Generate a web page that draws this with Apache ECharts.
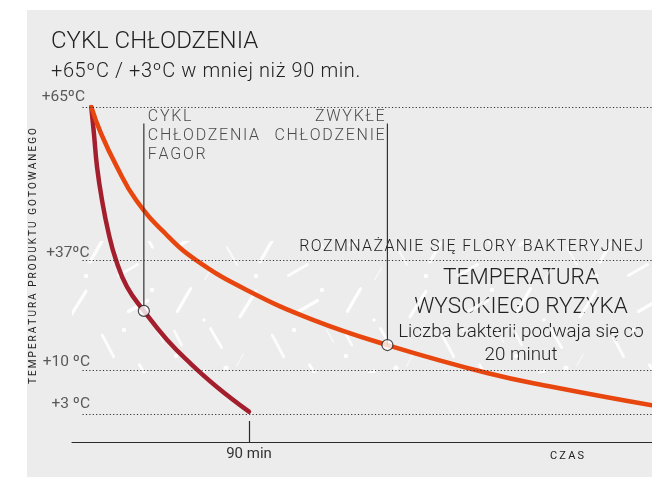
<!DOCTYPE html>
<html>
<head>
<meta charset="utf-8">
<script src="https://cdn.jsdelivr.net/npm/echarts@6/dist/echarts.min.js"></script>
<style>
  html, body { margin: 0; padding: 0; background: #ffffff; }
  #wrap { position: relative; width: 652px; height: 477px; overflow: hidden; }
  #panel { position: absolute; left: 27px; top: 10px; right: 0; bottom: 0; background: #ececec; }
  #chart { position: absolute; left: 0; top: 0; width: 652px; height: 477px; }
</style>
</head>
<body>
<div id="wrap"><div id="panel"></div><div id="chart"></div></div>
<script>
// Cooling curves: time in minutes, product temperature in °C
const fagorTime = [0, 1.5, 3.3, 6.1, 9.9, 14.1, 20.4, 30, 43.2, 56.3, 71.7, 90];
const fagorTemp = [65, 60.2, 54, 48, 41.9, 37, 30.4, 24.5, 17.4, 11.7, 7.3, 3.4];
const standardTime = [0, 5.5, 14.7, 25.5, 42.1, 59.8, 88.9, 126.5, 169, 225.9, 263.5, 320];
const standardTemp = [65, 60.2, 54, 48, 41.9, 37, 29.6, 22.3, 16.1, 9.5, 7.3, 4.4];

// Reference temperatures and their heights on the schematic vertical scale
const refTemps = [3, 10, 37, 65];
const refLabels = ['+3 ºC', '+10 ºC', '+37ºC', '+65ºC'];
const refLevels = [5.4, 14, 35.3, 65];

// High-risk band, °C
const riskBand = [9.5, 40.5];

// Highlighted points [minutes, °C]
const fagorMark = [30, 24.5];
const standardMark = [169, 16.1];
const pointerTopTemp = 62;

const timeTicks = [90];
const timeMin = -11, timeMax = 320, lineStart = -5;

const RED = '#a31f2d';
const ORANGE = '#e8460f';
const INK = '#2b2b2b';
const FONT = 'Roboto';

// piecewise-linear map from °C to the schematic vertical scale
function toLevel(t) {
  let i = 0;
  while (i < refTemps.length - 2 && t > refTemps[i + 1]) i++;
  const t0 = refTemps[i], t1 = refTemps[i + 1];
  const l0 = refLevels[i], l1 = refLevels[i + 1];
  return l0 + (t - t0) * (l1 - l0) / (t1 - t0);
}

// letter-spaced text as rich-text tokens, one per character
function tracked(s) {
  return s.split('\n').map(line => line.split('').map(ch => '{t|' + ch + '}').join('')).join('\n');
}
function thinSpaced(s) { return s.split('').join('\u2009'); }

// white hatch texture for the high-risk band
function hatchTile() {
  const c = document.createElement('canvas');
  c.width = 170; c.height = 140;
  const g = c.getContext('2d');
  g.lineCap = 'round';
  const strokes = [
    [14, 20, 26, -60, 3.2, 0.95], [46, 58, 22, 60, 3, 0.9], [78, 24, 30, -58, 3.2, 0.9],
    [108, 66, 24, 62, 3, 0.85], [138, 26, 22, -30, 3.2, 0.9], [22, 98, 28, -30, 3.2, 0.95],
    [62, 116, 20, 60, 2.2, 0.7], [98, 108, 32, -60, 3.2, 0.9], [146, 96, 26, 60, 3, 0.9],
    [160, 56, 14, 60, 1.6, 0.6], [38, 134, 14, -60, 1.6, 0.55], [128, 130, 22, -30, 3, 0.85],
    [70, 80, 14, -62, 1.5, 0.5], [8, 58, 16, 62, 2.6, 0.8]
  ];
  strokes.forEach(([x, y, len, ang, w, a]) => {
    const r = ang * Math.PI / 180;
    const dx = Math.cos(r) * len / 2, dy = Math.sin(r) * len / 2;
    g.strokeStyle = 'rgba(255,255,255,' + a + ')';
    g.lineWidth = w;
    g.beginPath(); g.moveTo(x - dx, y - dy); g.lineTo(x + dx, y + dy); g.stroke();
  });
  [[56, 88, 2.6], [124, 50, 2.2], [6, 76, 2.2], [86, 136, 2.2], [152, 10, 2.2], [34, 40, 1.8]].forEach(([x, y, r]) => {
    g.fillStyle = 'rgba(255,255,255,0.9)';
    g.beginPath(); g.arc(x, y, r, 0, Math.PI * 2); g.fill();
  });
  return c;
}

const chart = echarts.init(document.getElementById('chart'), null, { renderer: 'canvas' });

const curve = (ts, vs) => ts.map((t, i) => [t, toLevel(vs[i])]);

// label nudges [dx, dy] for the reference temperatures, in refTemps order
const refLabelNudge = [[7.5, -2], [7.5, 0], [7, 1], [2.5, -2]];

const gText = (x, y, text, size, weight, align, extra) => Object.assign({
  type: 'text', x: x, y: y,
  style: { text: text, font: weight + ' ' + size + 'px ' + FONT, fill: '#222', align: align, verticalAlign: 'middle' }
}, extra || {});

const option = {
  backgroundColor: 'transparent',
  animation: false,
  grid: { left: 72, right: 0, top: 107, bottom: 35 },
  xAxis: {
    type: 'value', min: timeMin, max: timeMax,
    axisLine: { show: true, lineStyle: { color: INK, width: 1.2 } },
    axisTick: { show: true, inside: true, length: 21, customValues: timeTicks, lineStyle: { color: INK, width: 1.2 } },
    axisLabel: { show: true, customValues: timeTicks, formatter: v => v + ' min', color: '#333', fontFamily: FONT, fontSize: 15, margin: 5 },
    splitLine: { show: false }
  },
  yAxis: {
    type: 'value', min: 0, max: 65,
    axisLine: { show: false }, axisTick: { show: false }, axisLabel: { show: false }, splitLine: { show: false }
  },
  graphic: [
    gText(51, 42, 'CYKL CHŁODZENIA', 24, 300, 'left'),
    {
      type: 'text', x: 51, y: 72,
      style: {
        text: tracked('+65ºC / +3ºC w mniej niż 90 min.'), verticalAlign: 'middle',
        rich: { t: { fontFamily: FONT, fontSize: 20, fontWeight: 300, fill: '#222', padding: [0, 0.6, 0, 0] } }
      }
    },
    gText(33, 256, thinSpaced('TEMPERATURA PRODUKTU GOTOWANEGO'), 10, 400, 'center', { rotation: Math.PI / 2 }),
    gText(567, 456, thinSpaced('CZAS'), 11, 400, 'center'),
    gText(521, 278, 'TEMPERATURA', 22.5, 300, 'center'),
    gText(521, 307, 'WYSOKIEGO RYZYKA', 22.5, 300, 'center'),
    gText(521, 332, 'Liczba bakterii podwaja się co', 18.8, 300, 'center'),
    gText(521, 355, '20 minut', 18.8, 300, 'center')
  ],
  series: [
    {
      // reference levels and the high-risk band
      type: 'line', data: [], silent: true,
      markArea: {
        silent: true,
        itemStyle: { color: { image: hatchTile(), repeat: 'repeat' } },
        data: [[{ coord: [timeMin, toLevel(riskBand[1])] }, { coord: [timeMax, toLevel(riskBand[0])] }]]
      },
      markLine: {
        silent: true, symbol: ['none', 'none'],
        lineStyle: { color: '#333', width: 1.2, type: [1.2, 2.2] },
        label: { show: false },
        data: refTemps.map((t, i) => {
          const seg = [{ coord: [lineStart, refLevels[i]] }, { coord: [timeMax, refLevels[i]] }];
          if (t === 37) {
            seg[0].label = {
              show: true, position: 'insideEndTop', distance: [7.5, 5],
              formatter: tracked('ROZMNAŻANIE SIĘ FLORY BAKTERYJNEJ'),
              rich: { t: { color: '#222', fontFamily: FONT, fontWeight: 300, fontSize: 16, padding: [0, 1.4, 0, 0] } }
            };
          }
          return seg;
        })
      }
    },
    {
      // reference temperature labels
      type: 'scatter', symbolSize: 0, silent: true,
      data: refLevels.map((lv, i) => ({ value: [lineStart, lv], name: refLabels[i], label: { position: refLabelNudge[i] } })),
      label: {
        show: true, align: 'right', verticalAlign: 'bottom',
        formatter: p => p.name, color: '#333', fontFamily: FONT, fontSize: 15.5
      }
    },
    {
      name: 'Cykl chłodzenia Fagor', type: 'line', smooth: 0.45, showSymbol: false, z: 3,
      lineStyle: { color: RED, width: 4.5, cap: 'round' },
      data: curve(fagorTime, fagorTemp)
    },
    {
      name: 'Zwykłe chłodzenie', type: 'line', smooth: 0.45, showSymbol: false, z: 4,
      lineStyle: { color: ORANGE, width: 4.5, cap: 'round' },
      data: curve(standardTime, standardTemp)
    },
    {
      type: 'line', showSymbol: false, silent: true, z: 5,
      lineStyle: { color: '#333', width: 1.2 },
      data: [[fagorMark[0], toLevel(pointerTopTemp)], [fagorMark[0], toLevel(fagorMark[1])]]
    },
    {
      type: 'line', showSymbol: false, silent: true, z: 5,
      lineStyle: { color: '#333', width: 1.2 },
      data: [[standardMark[0], toLevel(pointerTopTemp)], [standardMark[0], toLevel(standardMark[1])]]
    },
    {
      type: 'scatter', symbol: 'circle', symbolSize: 11, silent: true, z: 6,
      itemStyle: { color: '#fff', borderColor: '#222', borderWidth: 1.2 },
      data: [[fagorMark[0], toLevel(fagorMark[1])], [standardMark[0], toLevel(standardMark[1])]]
    },
    {
      // curve annotations above the pointer lines
      type: 'scatter', symbolSize: 0, silent: true, z: 6,
      data: [
        { value: [fagorMark[0], toLevel(65)], name: 'CYKL\nCHŁODZENIA\nFAGOR', label: { position: [4, 0], align: 'left' } },
        { value: [standardMark[0], toLevel(65)], name: 'ZWYKŁE\nCHŁODZENIE', label: { position: [-1, 0], align: 'right' } }
      ],
      label: {
        show: true, verticalAlign: 'top',
        formatter: p => tracked(p.name),
        rich: { t: { color: '#222', fontFamily: FONT, fontWeight: 300, fontSize: 16, lineHeight: 19, padding: [0, 1.7, 0, 0] } }
      }
    }
  ]
};

chart.setOption(option);
</script>
</body>
</html>
